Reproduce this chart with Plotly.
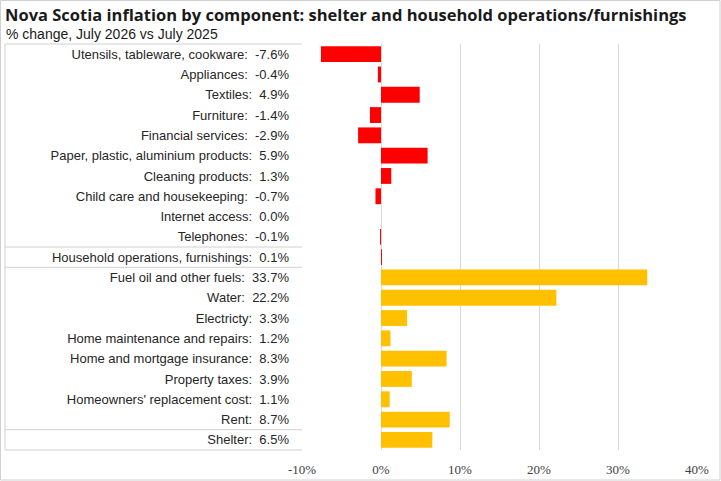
import plotly.graph_objects as go

# Data (top to bottom)
components = [
    "Utensils, tableware, cookware", "Appliances", "Textiles", "Furniture",
    "Financial services", "Paper, plastic, aluminium products", "Cleaning products",
    "Child care and housekeeping", "Internet access", "Telephones",
    "Household operations, furnishings",
    "Fuel oil and other fuels", "Water", "Electricty", "Home maintenance and repairs",
    "Home and mortgage insurance", "Property taxes", "Homeowners' replacement cost",
    "Rent", "Shelter",
]
pct_change = [-7.6, -0.4, 4.9, -1.4, -2.9, 5.9, 1.3, -0.7, 0.0, -0.1,
              0.1,
              33.7, 22.2, 3.3, 1.2, 8.3, 3.9, 1.1, 8.7, 6.5]
groups = ["household"] * 11 + ["shelter"] * 9
x_ticks = [-10, 0, 10, 20, 30, 40]
x_tick_labels = ["-10%", "0%", "10%", "20%", "30%", "40%"]

labels = [f"{n}:  {v:.1f}%" for n, v in zip(components, pct_change)]
bar_colors = ["#FF0000" if g == "household" else "#FFC000" for g in groups]

fig = go.Figure(go.Bar(
    x=pct_change, y=labels, orientation="h",
    marker=dict(color=bar_colors, line_width=0),
    width=0.78,
))

W, H = 721, 481
L, R, T, B = 302, 24, 44, 31
pw, ph = W - L - R, H - T - B

def px(x):
    return (x - L) / pw

def py(y):
    return (H - B - y) / ph

fig.update_layout(
    width=W, height=H,
    margin=dict(l=L, r=R, t=T, b=B),
    paper_bgcolor="white", plot_bgcolor="white",
    showlegend=False,
    font=dict(family="Liberation Sans", color="#262626"),
    title=dict(
        text="<b>Nova Scotia inflation by component: shelter and household operations/furnishings</b>",
        xref="container", yref="container", x=5 / W, y=1 - 15 / H,
        xanchor="left", yanchor="middle",
        font=dict(size=16.5, family="Open Sans", color="#1a1a1a"),
    ),
    annotations=[dict(
        text="% change, July 2026 vs July 2025",
        xref="paper", yref="paper", x=px(4), y=py(34),
        xanchor="left", yanchor="middle", showarrow=False,
        font=dict(size=14, family="Liberation Sans", color="#1a1a1a"),
    )],
)

fig.update_xaxes(
    range=[-10, 40], tickvals=x_ticks, ticktext=x_tick_labels,
    showgrid=True, gridcolor="#D9D9D9", gridwidth=1,
    zeroline=True, zerolinecolor="#D9D9D9", zerolinewidth=1,
    tickfont=dict(size=13, family="Liberation Sans Narrow", color="#404040"),
    ticklabelstandoff=10, automargin=False,
    showline=False, fixedrange=True,
)
fig.update_yaxes(
    autorange="reversed", type="category",
    tickfont=dict(size=13, family="Liberation Sans", color="#262626"),
    ticks="", ticklabelstandoff=12, automargin=False,
    showgrid=False, fixedrange=True,
)

line = dict(color="#D0D0D0", width=1)
shapes = [
    # outer frame
    dict(type="rect", xref="paper", yref="paper", x0=px(0.5), x1=px(720), y0=py(480), y1=py(0.5), line=line),
    # label table
    dict(type="line", xref="paper", yref="paper", x0=px(5), x1=0, y0=1, y1=1, line=line),
    dict(type="line", xref="paper", yref="paper", x0=px(5), x1=0, y0=0, y1=0, line=line),
    dict(type="line", xref="paper", yref="paper", x0=px(5), x1=px(5), y0=0, y1=1, line=line),
]
for pos in [9.5, 10.5, 18.5]:
    shapes.append(dict(type="line", xref="paper", yref="y", x0=px(5), x1=0, y0=pos, y1=pos, line=line))
fig.update_layout(shapes=shapes)

fig.write_html("out.html", config={"displayModeBar": False},
               post_script="document.body.style.margin='0';")
